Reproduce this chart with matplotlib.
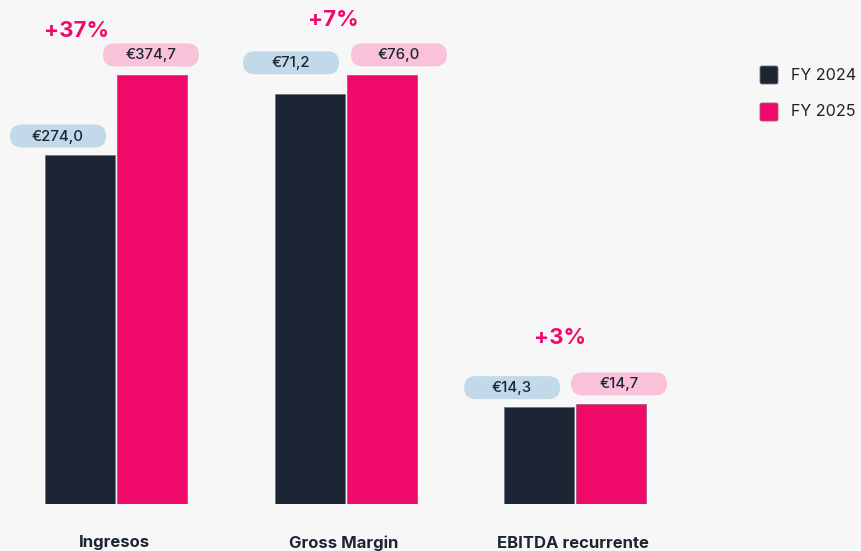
import matplotlib
matplotlib.use("Agg")
import matplotlib.pyplot as plt
from matplotlib.patches import FancyBboxPatch
from matplotlib.transforms import IdentityTransform

# datos (millones de euros)
categorias = ["Ingresos", "Gross Margin", "EBITDA recurrente"]
fy2024 = [274.0, 71.2, 14.3]
fy2025 = [374.7, 76.0, 14.7]
etiquetas_2024 = ["€274,0", "€71,2", "€14,3"]
etiquetas_2025 = ["€374,7", "€76,0", "€14,7"]
variaciones = ["+37%", "+7%", "+3%"]
series = ["FY 2024", "FY 2025"]

# estilo
FONDO = "#f7f7f7"
AZUL_OSCURO = "#1c2533"
ROSA = "#ef0a6a"
PILL_AZUL = "#c2d9ea"
PILL_ROSA = "#f9c2d9"
FUENTE = ["Inter", "DejaVu Sans"]

W, H = 862, 551
BASE_PX = 504          # linea base de las barras (px desde arriba)
CENTROS_PX = [116, 346, 575]
# cada grupo tiene su propia escala vertical (el grafico original no comparte eje)
escala_min = [-165.0, -32.4, 0.0]
escala_max = [469.0, 94.9, 74.0]

# desplazamientos de las etiquetas (px)
off_2024 = [(-22, 19), (-19, 31), (-27, 19)]
off_2025 = [(-1, 20), (17, 20), (8, 20)]
off_var = [(-40, 44), (-13, 55), (-15, 66)]

plt.rcParams["font.family"] = FUENTE
fig = plt.figure(figsize=(W / 100, H / 100), dpi=100, facecolor=FONDO)
ident = IdentityTransform()


def pill(cx, cy, texto, color):
    w, h = 96, 23
    p = FancyBboxPatch((cx - w / 2, cy - h / 2), w, h,
                       boxstyle="round,pad=0,rounding_size=11.5",
                       transform=ident, facecolor=color, edgecolor="none")
    fig.add_artist(p)
    fig.text(cx, cy - 0.5, texto, transform=ident, ha="center", va="center",
             fontsize=10.8, fontweight="medium", color=AZUL_OSCURO)


colores = [AZUL_OSCURO, ROSA]
bordes = ["#6f7580", "#b0577a"]

for i, cat in enumerate(categorias):
    left = (CENTROS_PX[i] - 115) / W
    ax = fig.add_axes([left, (H - BASE_PX) / H, 230 / W, BASE_PX / H])
    ax.set_facecolor("none")
    ax.set_xlim(-1.6, 1.6)
    lo, hi = escala_min[i], escala_max[i]
    ax.set_ylim(lo, hi)
    ax.bar([-0.5], [fy2024[i] - lo], bottom=lo, width=0.97,
           color=colores[0], edgecolor=bordes[0], linewidth=0.6)
    ax.bar([0.5], [fy2025[i] - lo], bottom=lo, width=0.97,
           color=colores[1], edgecolor=bordes[1], linewidth=0.6)
    ax.axis("off")

    # posiciones en pixeles (origen abajo)
    x24, y24 = ax.transData.transform((-0.5, fy2024[i]))
    x25, y25 = ax.transData.transform((0.5, fy2025[i]))
    pill(x24 + off_2024[i][0], y24 + off_2024[i][1], etiquetas_2024[i], PILL_AZUL)
    pill(x25 + off_2025[i][0], y25 + off_2025[i][1], etiquetas_2025[i], PILL_ROSA)

    ytop = max(y24, y25)
    fig.text(CENTROS_PX[i] + off_var[i][0], ytop + off_var[i][1], variaciones[i],
             transform=ident, ha="center", va="center", fontsize=16,
             fontweight="bold", color=ROSA)

    fig.text(CENTROS_PX[i] - 2, H - 543, cat, transform=ident, ha="center",
             va="center", fontsize=12, fontweight="bold", color=AZUL_OSCURO)

# leyenda
for j, nombre in enumerate(series):
    cy = H - (75 + 37 * j)
    fig.add_artist(FancyBboxPatch((760, cy - 9), 18, 18,
                                  boxstyle="round,pad=0,rounding_size=2",
                                  transform=ident, facecolor=colores[j],
                                  edgecolor=bordes[j], linewidth=0.6))
    fig.text(791, cy, nombre, transform=ident, ha="left", va="center",
             fontsize=11.6, color="#222222")

fig.savefig("out.png", dpi=100, facecolor=FONDO)
